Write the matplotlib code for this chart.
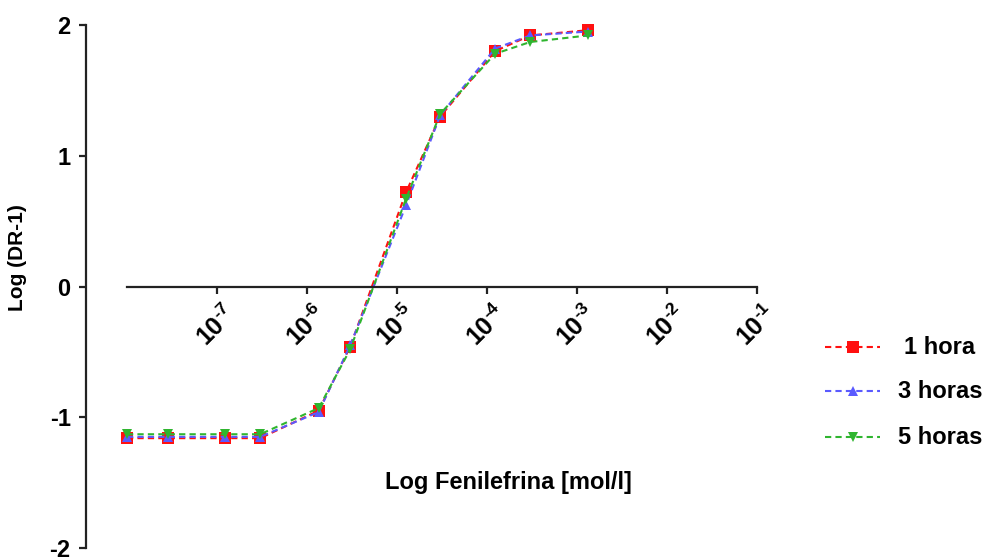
import matplotlib
matplotlib.use("Agg")
import matplotlib.pyplot as plt
from matplotlib.lines import Line2D
import numpy as np

plt.rcParams["font.family"] = ["Liberation Sans", "DejaVu Sans"]
plt.rcParams["font.weight"] = "bold"
plt.rcParams["mathtext.fontset"] = "custom"
plt.rcParams["mathtext.rm"] = "Liberation Sans:bold"
plt.rcParams["mathtext.bf"] = "Liberation Sans:bold"

# log10 of phenylephrine concentration
log_conc = [-8.0, -7.54, -6.91, -6.52, -5.87, -5.52, -4.90, -4.52, -3.91, -3.52, -2.88]
hora_1 = [-1.16, -1.16, -1.16, -1.16, -0.95, -0.46, 0.72, 1.30, 1.80, 1.92, 1.96]
horas_3 = [-1.15, -1.15, -1.15, -1.15, -0.96, -0.45, 0.62, 1.31, 1.82, 1.92, 1.95]
horas_5 = [-1.13, -1.13, -1.13, -1.13, -0.93, -0.48, 0.67, 1.32, 1.78, 1.87, 1.92]

series = [("1 hora", hora_1, "#ff1010", "s", 8.5),
          ("3 horas", horas_3, "#5a5aff", "^", 7.5),
          ("5 horas", horas_5, "#2fb52f", "v", 7.5)]

tick_exp = [-7, -6, -5, -4, -3, -2, -1]
y_ticks = [-2, -1, 0, 1, 2]

fig = plt.figure(figsize=(9.85, 5.57), dpi=100)
ax = fig.add_axes([127 / 985, 9 / 557, 630 / 985, 523 / 557])

conc = 10.0 ** np.array(log_conc)
for name, vals, col, mk, ms in series:
    ax.plot(conc, vals, ls=(0, (3, 2)), lw=1.5, color=col, marker=mk,
            markersize=ms, markeredgewidth=0, label=name, clip_on=False)

ax.set_xscale("log")
ax.set_xlim(1e-8, 1e-1)
ax.set_ylim(-2, 2)

# spines first: moving a spine resets the tick labels
for s in ["top", "right"]:
    ax.spines[s].set_visible(False)
ax.spines["left"].set_position(("outward", 41 * 72 / 100))
ax.spines["bottom"].set_position(("data", 0))
for s in ["left", "bottom"]:
    ax.spines[s].set_linewidth(1.6)
    ax.spines[s].set_color("#222222")

ax.set_yticks(y_ticks)
ax.set_xticks([10.0 ** e for e in tick_exp])
ax.xaxis.set_minor_locator(matplotlib.ticker.NullLocator())
ax.tick_params(axis="both", direction="out", length=5, width=1.6, color="#222222")
ax.tick_params(axis="y", pad=6)
ax.tick_params(axis="x", pad=5)
ax.set_yticklabels([str(v) for v in y_ticks], fontsize=17, fontweight="bold")
ax.set_xticklabels([r"$\mathbf{10^{\text{-%d}}}$" % -e for e in tick_exp],
                   fontsize=18, rotation=45, ha="center", va="top")

fig.text(18 / 985, 1 - 258 / 557, "Log (DR-1)", rotation=90, ha="center", va="center",
         fontsize=15, fontweight="bold")
fig.text(508 / 985, 1 - 482 / 557, "Log Fenilefrina [mol/l]", ha="center", va="center",
         fontsize=17, fontweight="bold")

# legend on the right
leg_y = [347, 391, 437]
for (name, vals, col, mk, ms), yp in zip(series, leg_y):
    yf = 1 - yp / 557
    fig.add_artist(Line2D([825 / 985, 880 / 985], [yf, yf], ls=(0, (3, 2)), lw=1.5,
                          color=col, transform=fig.transFigure))
    fig.add_artist(Line2D([853 / 985], [yf], marker=mk, markersize=ms, markeredgewidth=0,
                          color=col, transform=fig.transFigure))
    fig.text(940 / 985, yf, name, ha="center", va="center", fontsize=17, fontweight="bold")

fig.savefig("out.png", dpi=100)
